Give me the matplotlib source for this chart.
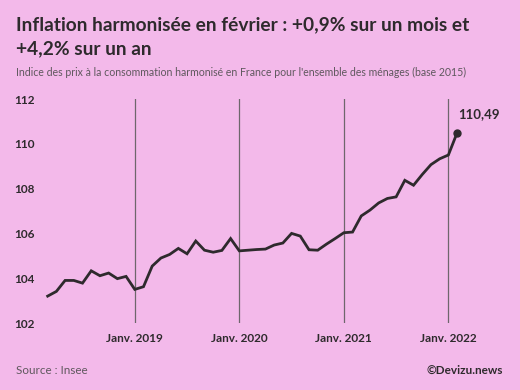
import matplotlib
matplotlib.use("Agg")
import matplotlib.pyplot as plt

# Monthly HICP France (base 2015), March 2018 -> February 2022
months = [
    "2018-03", "2018-04", "2018-05", "2018-06", "2018-07", "2018-08", "2018-09", "2018-10", "2018-11", "2018-12",
    "2019-01", "2019-02", "2019-03", "2019-04", "2019-05", "2019-06", "2019-07", "2019-08", "2019-09", "2019-10",
    "2019-11", "2019-12", "2020-01", "2020-02", "2020-03", "2020-04", "2020-05", "2020-06", "2020-07", "2020-08",
    "2020-09", "2020-10", "2020-11", "2020-12", "2021-01", "2021-02", "2021-03", "2021-04", "2021-05", "2021-06",
    "2021-07", "2021-08", "2021-09", "2021-10", "2021-11", "2021-12", "2022-01", "2022-02",
]
hicp = [
    103.20, 103.41, 103.90, 103.90, 103.78, 104.33, 104.11, 104.23, 103.98, 104.08,
    103.50, 103.62, 104.54, 104.90, 105.06, 105.33, 105.09, 105.66, 105.25, 105.16,
    105.24, 105.77, 105.22, 105.25, 105.28, 105.30, 105.48, 105.57, 106.00, 105.88,
    105.27, 105.25, 105.52, 105.77, 106.03, 106.06, 106.78, 107.04, 107.36, 107.56,
    107.63, 108.37, 108.15, 108.63, 109.07, 109.33, 109.50, 110.49,
]
tick_labels = ["Janv. 2019", "Janv. 2020", "Janv. 2021", "Janv. 2022"]
yticks = [102, 104, 106, 108, 110, 112]

BG = "#f3b9ea"
DARK = "#2e2a2d"
GREY = "#5f585e"
FONT = ["Lato", "DejaVu Sans"]

plt.rcParams["font.family"] = FONT

fig = plt.figure(figsize=(5.2, 3.9), dpi=100, facecolor=BG)
W, H = 520, 390
ax = fig.add_axes([40 / W, 1 - 323 / H, (505 - 40) / W, (323 - 99) / H])
ax.set_facecolor(BG)

x = list(range(len(months)))
jan_idx = [i for i, m in enumerate(months) if m.endswith("-01")]

for i in jan_idx:
    ax.axvline(i, color="#6e666c", linewidth=0.9, zorder=1)

ax.plot(x, hicp, color=DARK, linewidth=2.0, zorder=3, solid_joinstyle="miter")
ax.plot(x[-1], hicp[-1], "o", color=DARK, markersize=5, zorder=4)
ax.annotate(f"{hicp[-1]:.2f}".replace(".", ","), (x[-1], hicp[-1]), xytext=(1, 9),
            textcoords="offset points", fontsize=9.5, fontweight="bold", color=DARK,
            ha="left", va="bottom")

ax.set_xlim(-0.88, 52.5)
ax.set_ylim(102, 112)
ax.set_yticks(yticks)
ax.set_yticklabels([str(v) for v in yticks])
ax.set_xticks(jan_idx)
ax.set_xticklabels(tick_labels)
for lab in ax.get_yticklabels() + ax.get_xticklabels():
    lab.set_fontweight("bold")
    lab.set_color(DARK)
    lab.set_fontsize(8.5)
ax.tick_params(axis="both", length=0)
ax.tick_params(axis="y", pad=4)
ax.tick_params(axis="x", pad=7)
for s in ax.spines.values():
    s.set_visible(False)

fig.text(16 / W, 1 - 25 / H, "Inflation harmonisée en février : +0,9% sur un mois et",
         fontsize=13.8, fontweight="bold", color=DARK, va="center", ha="left")
fig.text(16 / W, 1 - 49 / H, "+4,2% sur un an",
         fontsize=13.8, fontweight="bold", color=DARK, va="center", ha="left")
fig.text(16 / W, 1 - 72 / H,
         "Indice des prix à la consommation harmonisé en France pour l'ensemble des ménages (base 2015)",
         fontsize=7.6, color=GREY, va="center", ha="left")
fig.text(16 / W, 1 - 370 / H, "Source : Insee", fontsize=8.4, color=GREY, va="center", ha="left")
fig.text(503 / W, 1 - 370 / H, "©Devizu.news", fontsize=8.5, fontweight="bold", color=DARK,
         va="center", ha="right")

fig.savefig("out.png", dpi=100, facecolor=BG)
